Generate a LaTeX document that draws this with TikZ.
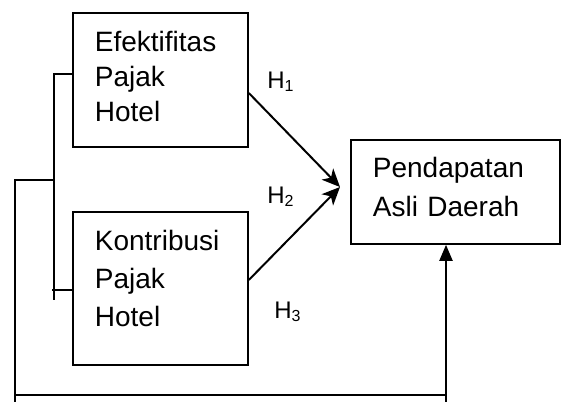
\documentclass[tikz,border=0pt]{standalone}
\usepackage{fontspec}
\setmainfont{Liberation Sans}
\usetikzlibrary{arrows.meta,positioning}
\tikzset{
  varbox/.style={draw=black,line width=0.9pt,anchor=north west,
    inner xsep=11pt,inner ysep=0pt,align=left,text height=12pt},
  hlabel/.style={anchor=base west,inner sep=0pt,
    font=\fontsize{12}{14}\selectfont},
  linkline/.style={line width=1pt,draw=black},
  linkarrow/.style={linkline,-{Stealth[length=9pt,width=8pt,inset=2.5pt]}},
  backarrow/.style={linkline,-{Triangle[length=8pt,width=6.5pt]}},
}

\begin{document}
\begin{tikzpicture}[x=0.5pt,y=-0.5pt]
  \useasboundingbox (0,0) rectangle (563,402);
  % variables
  \node[varbox,minimum width=87.5pt,minimum height=67pt,text width=65.5pt,
    text depth=40pt,font=\fontsize{14}{17.5}\selectfont]
    (efek) at (72,12) {Efektifitas\\Pajak\\Hotel};
  \node[varbox,minimum width=87.5pt,minimum height=76.5pt,text width=65.5pt,
    text depth=49.5pt,font=\fontsize{14}{19}\selectfont]
    (kontri) at (72,211) {Kontribusi\\Pajak\\Hotel};
  \node[varbox,minimum width=104.5pt,minimum height=52pt,text width=82.5pt,
    text depth=26pt,font=\fontsize{14}{19.5}\selectfont]
    (pad) at (350,139) {Pendapatan\\Asli Daerah};
  % hypotheses
  \node[hlabel] (h1) at (267,88) {H\textsubscript{1}};
  \node[hlabel] (h2) at (267,203) {H\textsubscript{2}};
  \node[hlabel] (h3) at (274,318) {H\textsubscript{3}};
  \coordinate (tip) at (340,187);
  \coordinate (brtop) at (54,74);
  \coordinate (brmid) at (54,180);
  \coordinate (brbot) at (54,300);
  \coordinate (tick) at (52,290);
  \coordinate (outer) at (15,180);
  \coordinate (outbot) at (15,402);
  \coordinate (base) at (15,395);
  \coordinate (fbot) at (446,402);
  \draw[linkarrow] (efek.east |- 0,93) -- (tip);
  \draw[linkarrow] (kontri.east |- 0,280) -- (tip);
  % simultaneous path
  \draw[linkline] (efek.west |- brtop) -- (brtop) -- (brbot);
  \draw[linkline] (tick) -- (kontri.west |- tick);
  \draw[linkline] (brmid) -- (outer) -- (outbot);
  \draw[linkline] (base) -- (fbot |- base);
  \draw[backarrow] (fbot) -- (fbot |- pad.south);
\end{tikzpicture}
\end{document}
